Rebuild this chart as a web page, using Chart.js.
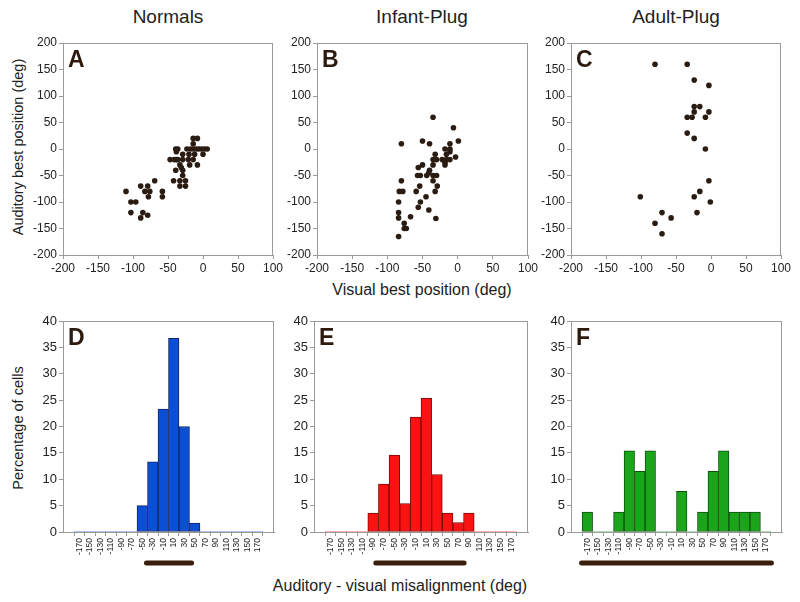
<!DOCTYPE html>
<html>
<head>
<meta charset="utf-8">
<script src="https://cdn.jsdelivr.net/npm/chart.js@4"></script>
<style>
  body { margin: 0; background: #fff; font-family: "Liberation Sans", Arial, sans-serif; color: #222; }
  #page { position: relative; width: 800px; height: 602px; overflow: hidden; }
  canvas { position: absolute; }
  .lbl { position: absolute; white-space: nowrap; font-size: 16px; color: #222; }
  .title { font-size: 19px; top: 6px; transform: translateX(-50%); }
  .vert { font-size: 14.5px; transform: translate(-50%, -50%) rotate(-90deg); }
</style>
</head>
<body>
<div id="page">
  <div class="lbl title" style="left:168px">Normals</div>
  <div class="lbl title" style="left:422px">Infant-Plug</div>
  <div class="lbl title" style="left:676px">Adult-Plug</div>
  <div class="lbl vert" style="left:18px; top:147px">Auditory best position (deg)</div>
  <div class="lbl" style="left:422px; top:281px; transform:translateX(-50%)">Visual best position (deg)</div>
  <div class="lbl vert" style="left:18px; top:428px">Percentage of cells</div>
  <div class="lbl" style="left:400px; top:577px; transform:translateX(-50%)">Auditory - visual misalignment (deg)</div>
</div>
<script>
// scatter: visual (x) vs auditory (y) best positions, deg
var normalsX = [-110,-103,-96,-103,-89,-83,-79,-76,-78,-69,-58,-58,-86,-89,-79,
  -47,-41,-38,-36,-39,-38,-36,-29,-29,-21,-14,-20,-12,0,-23,-18,-14,-10,-6,-2,2,6,
  -14,-14,-8,-8,-19,-33,-31,-39,-29,-29,-42,-33,-25,-33,-25];
var normalsY = [-80,-100,-100,-120,-70,-80,-70,-80,-90,-60,-80,-90,-120,-130,-125,
  -20,-20,-20,-20,0,-5,0,-10,-20,-20,-20,-10,-10,-10,0,0,0,0,0,0,0,0,
  10,20,20,-30,-30,-30,-35,-40,-40,-50,-60,-60,-60,-70,-70];

var infantX = [-35,-6,-80,-50,-40,1,-11,-18,-11,-11,-32,-16,-3,-35,-30,-22,-16,-11,-18,-18,
  -50,-35,-56,-40,-41,-44,-57,-53,-35,-30,-35,-54,-29,-80,-83,-78,-59,-32,-45,-53,
  -84,-56,-41,-84,-84,-67,-31,-76,-76,-73,-84];
var infantY = [60,40,10,15,10,15,10,0,0,-5,-10,-10,-15,-20,-20,-20,-20,-20,-25,-30,
  -30,-30,-35,-40,-45,-50,-50,-50,-50,-50,-60,-70,-70,-60,-80,-80,-80,-80,-90,-100,
  -100,-110,-115,-120,-130,-128,-131,-140,-150,-150,-165];

var adultX = [-80,-34,-24,-3,-24,-16,-24,-3,-34,-27,-8,-34,-24,-8,-3,-16,-24,-1,-101,-20,-70,-57,-80,-70];
var adultY = [160,160,130,120,80,80,70,70,60,60,60,30,20,0,-60,-80,-90,-100,-90,-120,-120,-130,-140,-160];

var scatterTicks = { xMin: -200, xMax: 100, yMin: -200, yMax: 200, step: 50 };

// histograms: auditory - visual misalignment, % of cells
var binCenters = [-170,-150,-130,-110,-90,-70,-50,-30,-10,10,30,50,70,90,110,130,150,170];
var normalsPct = [0,0,0,0,0,0,5,13.3,23.3,36.7,20,1.7,0,0,0,0,0,0];
var infantPct  = [0,0,0,0,3.6,9.1,14.6,5.4,21.8,25.4,10.9,3.6,1.8,3.6,0,0,0,0];
var adultPct   = [3.8,0,0,3.8,15.4,11.5,15.4,0,0,7.7,0,3.8,11.5,15.4,3.8,3.8,3.8,0];
var rangeNormals = [-42, 44];
var rangeInfant  = [-85, 81];
var rangeAdult   = [-181, 181];

var FONT = "'Liberation Sans', Arial, sans-serif";
var page = document.getElementById("page");

// frame, panel letter and the range bar under histograms
var decor = {
  id: "decor",
  afterDraw: function (chart, args, opts) {
    var c = chart.ctx, a = chart.chartArea;
    c.save();
    c.strokeStyle = "#9a9a9a";
    c.lineWidth = 1;
    c.strokeRect(Math.round(a.left) + 0.5, Math.round(a.top) + 0.5,
      Math.round(a.right - a.left) - 1, Math.round(a.bottom - a.top));
    c.fillStyle = "#2b1a0d";
    c.font = "bold 23px " + FONT;
    c.textBaseline = "alphabetic";
    c.fillText(opts.letter, a.left + 5, a.top + 24);
    if (opts.range) {
      var xs = chart.scales.x;
      c.strokeStyle = "#3b1e0c";
      c.lineWidth = 5;
      c.lineCap = "round";
      c.beginPath();
      c.moveTo(xs.getPixelForValue(opts.range[0]), a.bottom + 31);
      c.lineTo(xs.getPixelForValue(opts.range[1]), a.bottom + 31);
      c.stroke();
    }
    c.restore();
  }
};

function makeCanvas(x, y, w, h) {
  var cv = document.createElement("canvas");
  cv.width = w; cv.height = h;
  cv.style.left = x + "px"; cv.style.top = y + "px";
  cv.style.width = w + "px"; cv.style.height = h + "px";
  page.appendChild(cv);
  return cv.getContext("2d");
}

function axisStyle(size) {
  return {
    grid: { drawOnChartArea: false, drawTicks: true, tickLength: 4, color: "#9a9a9a" },
    border: { display: true, color: "#9a9a9a" },
    ticks: { color: "#222", font: { family: FONT, size: size }, padding: 2 }
  };
}

var Y_W = 45;

function scatterPanel(box, area, xs, ys, letter) {
  var ctx = makeCanvas(box[0], box[1], box[2], box[3]);
  var pts = xs.map(function (v, i) { return { x: v, y: ys[i] }; });
  var xAx = axisStyle(12), yAx = axisStyle(12);
  xAx.min = scatterTicks.xMin; xAx.max = scatterTicks.xMax;
  xAx.ticks.stepSize = scatterTicks.step;
  xAx.afterFit = function (s) { s.height = 20; s.paddingLeft = 0; s.paddingRight = 0; };
  yAx.min = scatterTicks.yMin; yAx.max = scatterTicks.yMax;
  yAx.ticks.stepSize = scatterTicks.step;
  yAx.afterFit = function (s) { s.width = Y_W; s.paddingTop = 0; s.paddingBottom = 0; };
  return new Chart(ctx, {
    type: "scatter",
    data: { datasets: [{ data: pts, backgroundColor: "#2a1c12", borderColor: "#2a1c12",
      pointRadius: 2.8, borderWidth: 0 }] },
    options: {
      responsive: false, animation: false,
      layout: { padding: {
        left: area[0] - box[0] - Y_W, top: area[1] - box[1],
        right: box[0] + box[2] - area[2], bottom: box[1] + box[3] - area[3] - 20 } },
      plugins: { legend: { display: false }, tooltip: { enabled: false }, decor: { letter: letter } },
      scales: { x: xAx, y: yAx }
    },
    plugins: [decor]
  });
}

function histPanel(box, area, pct, fill, edge, letter, range) {
  var ctx = makeCanvas(box[0], box[1], box[2], box[3]);
  var pts = binCenters.map(function (b, i) { return { x: b, y: pct[i] }; });
  var xAx = axisStyle(8.5), yAx = axisStyle(13);
  xAx.type = "linear"; xAx.min = -190; xAx.max = 190;
  xAx.ticks.minRotation = 90; xAx.ticks.maxRotation = 90; xAx.ticks.autoSkip = false;
  xAx.afterBuildTicks = function (s) { s.ticks = binCenters.map(function (v) { return { value: v }; }); };
  xAx.afterFit = function (s) { s.height = 28; s.paddingLeft = 0; s.paddingRight = 0; };
  yAx.min = 0; yAx.max = 40; yAx.ticks.stepSize = 5;
  yAx.afterFit = function (s) { s.width = Y_W; s.paddingTop = 0; s.paddingBottom = 0; };
  return new Chart(ctx, {
    type: "bar",
    data: { datasets: [{ data: pts, backgroundColor: fill, borderColor: edge,
      borderWidth: function (c) { return c.raw && c.raw.y > 0 ? 1 : 0; },
      borderSkipped: false, barPercentage: 1.0, categoryPercentage: 1.0 }] },
    options: {
      responsive: false, animation: false,
      layout: { padding: {
        left: area[0] - box[0] - Y_W, top: area[1] - box[1],
        right: box[0] + box[2] - area[2], bottom: box[1] + box[3] - area[3] - 28 } },
      plugins: { legend: { display: false }, tooltip: { enabled: false },
        decor: { letter: letter, range: range } },
      scales: { x: xAx, y: yAx }
    },
    plugins: [decor]
  });
}

scatterPanel([10, 28, 285, 257], [63, 43, 273, 255], normalsX, normalsY, "A");
scatterPanel([265, 28, 280, 257], [317, 43, 528, 255], infantX, infantY, "B");
scatterPanel([520, 28, 280, 257], [571, 43, 781, 255], adultX, adultY, "C");
histPanel([10, 300, 285, 275], [63, 321, 274, 532], normalsPct, "#0b4fd6", "#14245e", "D", rangeNormals);
histPanel([265, 300, 280, 275], [314, 321, 528, 532], infantPct, "#fb1212", "#7a0a0a", "E", rangeInfant);
histPanel([520, 300, 280, 275], [571, 321, 782, 532], adultPct, "#1ba51b", "#0c520c", "F", rangeAdult);
</script>
</body>
</html>
